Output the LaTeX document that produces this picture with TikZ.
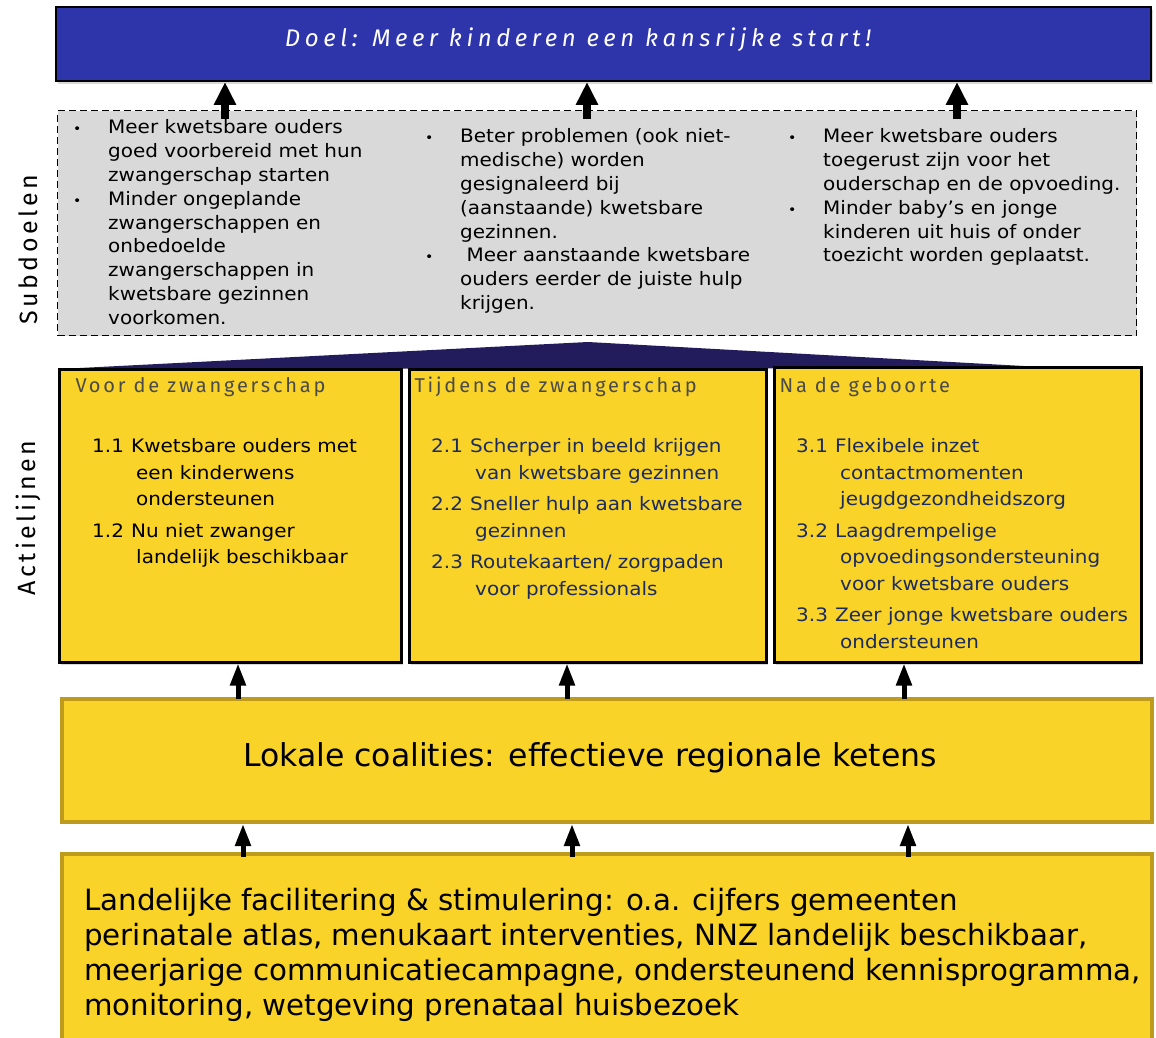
\documentclass[tikz,border=0pt]{standalone}
\usepackage{fontspec}
\setmainfont{DejaVu Sans}
\newfontfamily\thinfont{Fira Sans}
\newfontfamily\widefont{DejaVu Sans}[FakeStretch=1.08]
\usetikzlibrary{arrows.meta,positioning,shadows}
\definecolor{doelblue}{HTML}{2E35AB}
\definecolor{subgray}{HTML}{D9D9D9}
\definecolor{actyellow}{HTML}{F9D327}
\definecolor{roofnavy}{HTML}{221B5C}
\definecolor{goldline}{HTML}{BE9A1D}
\definecolor{itemnavy}{HTML}{1C2B5E}
\definecolor{headgray}{HTML}{4A4A4A}
\newcommand{\bul}{{\fontsize{13}{13}\selectfont\textbullet}}

\begin{document}
\begin{tikzpicture}[x=1pt,y=-1pt,
  uparrow/.style={line width=7.5pt,-{Triangle[width=21pt,length=23pt]}},
  smallarrow/.style={line width=5pt,-{Triangle[width=15pt,length=22pt]}},
  boxshadow/.style={drop shadow={shadow xshift=2pt,shadow yshift=-3pt,opacity=0.3}},
  actbox/.style={draw=black,line width=2.5pt,fill=actyellow,anchor=north west,inner sep=0pt,boxshadow},
  basebox/.style={draw=goldline,line width=4pt,fill=actyellow,anchor=north west,inner sep=0pt},
  header/.style={anchor=west,text=headgray,font=\thinfont\addfontfeatures{LetterSpace=14}\fontsize{20}{24}\selectfont},
  sidelabel/.style={rotate=90,font=\thinfont\addfontfeatures{LetterSpace=14}\fontsize{25}{28}\selectfont},
  subtext/.style={anchor=north west,inner sep=0pt,font=\widefont\fontsize{18.5}{23.8}\selectfont},
  acttext/.style={anchor=north west,inner sep=0pt,font=\widefont\fontsize{18.5}{26.5}\selectfont}]

\useasboundingbox (0,0) rectangle (1156,1038);

% Goal on top
\node[draw=black,line width=2pt,fill=doelblue,anchor=north west,inner sep=0pt,
  minimum width=1095pt,minimum height=74pt,boxshadow] (doel) at (55,6) {};
\node[text=white,font=\thinfont\itshape\addfontfeatures{LetterSpace=19}\fontsize{24}{28}\selectfont]
  (doeltext) at (578,40) {Doel: Meer kinderen een kansrijke start!};

% Sub goals
\node[draw=black,dash pattern=on 7pt off 4pt,line width=1.2pt,fill=subgray,anchor=north west,inner sep=0pt,
  minimum width=1079pt,minimum height=225pt] (sub) at (57,110) {};
\node[sidelabel] (sublabel) at (28,250) {Subdoelen};

\node[subtext] (sub1) at (73,117) {\begin{tabular}{@{}p{35pt}@{}l@{}}
  \bul & Meer kwetsbare ouders\\
  & goed voorbereid met hun\\
  & zwangerschap starten\\
  \bul & Minder ongeplande\\
  & zwangerschappen en\\
  & onbedoelde\\
  & zwangerschappen in\\
  & kwetsbare gezinnen\\
  & voorkomen.
\end{tabular}};
\node[subtext] (sub2) at (425,126) {\begin{tabular}{@{}p{35pt}@{}l@{}}
  \bul & Beter problemen (ook niet-\\
  & medische) worden\\
  & gesignaleerd bij\\
  & (aanstaande) kwetsbare\\
  & gezinnen.\\
  \bul & \ Meer aanstaande kwetsbare\\
  & ouders eerder de juiste hulp\\
  & krijgen.
\end{tabular}};
\node[subtext] (sub3) at (788,126) {\begin{tabular}{@{}p{35pt}@{}l@{}}
  \bul & Meer kwetsbare ouders\\
  & toegerust zijn voor het\\
  & ouderschap en de opvoeding.\\
  \bul & Minder baby’s en jonge\\
  & kinderen uit huis of onder\\
  & toezicht worden geplaatst.
\end{tabular}};

% Arrows to the goal
\coordinate (s1) at (225,119);
\coordinate (s2) at (587,119);
\coordinate (s3) at (957,119);
\foreach \s in {s1,s2,s3}
  \draw[uparrow] (\s) -- (\s |- doel.south);

% Roof over the three action lines
\fill[roofnavy] (60,369) -- (588,342) -- (1060,368) -- cycle;

% Action lines
\node[actbox,minimum width=342pt,minimum height=293pt] (act1) at (58,368) {};
\node[actbox,minimum width=357pt,minimum height=293pt] (act2) at (408,368) {};
\node[actbox,minimum width=367pt,minimum height=295pt] (act3) at (773,366) {};
\node[sidelabel] (actlabel) at (28,518) {Actielijnen};

\node[header] (head1) at (72,387) {Voor de zwangerschap};
\node[header] (head2) at (411,387) {Tijdens de zwangerschap};
\node[header] (head3) at (776,387) {Na de geboorte};

\node[acttext] (items1) at (92,434) {\begin{tabular}{@{}p{39pt}@{}l@{}}
  1.1 & Kwetsbare ouders met\\
  & \hspace{5pt}een kinderwens\\
  & \hspace{5pt}ondersteunen\\[5pt]
  1.2 & Nu niet zwanger\\
  & \hspace{5pt}landelijk beschikbaar
\end{tabular}};
\node[acttext,text=itemnavy] (items2) at (431,434) {\begin{tabular}{@{}p{39pt}@{}l@{}}
  2.1 & Scherper in beeld krijgen\\
  & \hspace{5pt}van kwetsbare gezinnen\\[5pt]
  2.2 & Sneller hulp aan kwetsbare\\
  & \hspace{5pt}gezinnen\\[5pt]
  2.3 & Routekaarten/ zorgpaden\\
  & \hspace{5pt}voor professionals
\end{tabular}};
\node[acttext,text=itemnavy] (items3) at (796,434) {\begin{tabular}{@{}p{39pt}@{}l@{}}
  3.1 & Flexibele inzet\\
  & \hspace{5pt}contactmomenten\\
  & \hspace{5pt}jeugdgezondheidszorg\\[5pt]
  3.2 & Laagdrempelige\\
  & \hspace{5pt}opvoedingsondersteuning\\
  & \hspace{5pt}voor kwetsbare ouders\\[5pt]
  3.3 & Zeer jonge kwetsbare ouders\\
  & \hspace{5pt}ondersteunen
\end{tabular}};

% Local coalities
\node[basebox,minimum width=1090pt,minimum height=123pt] (lokaal) at (60,697) {};
\node[font=\fontsize{31.5}{36}\selectfont] (lokaaltext) at (590,758)
  {Lokale coalities: effectieve regionale ketens};

\coordinate (l1) at (238,699);
\coordinate (l2) at (567,699);
\coordinate (l3) at (904,699);
\draw[smallarrow] (l1) -- (l1 |- act1.south);
\draw[smallarrow] (l2) -- (l2 |- act2.south);
\draw[smallarrow] (l3) -- (l3 |- act3.south);

% National support
\node[basebox,minimum width=1090pt,minimum height=200pt] (landelijk) at (60,852) {};
\node[anchor=north west,inner sep=0pt,align=left,font=\fontsize{29.3}{35}\selectfont]
  (landtext) at (84,888) {Landelijke facilitering \& stimulering: o.a. cijfers gemeenten\\
  perinatale atlas, menukaart interventies, NNZ landelijk beschikbaar,\\
  meerjarige communicatiecampagne, ondersteunend kennisprogramma,\\
  monitoring, wetgeving prenataal huisbezoek};

\coordinate (n1) at (243,857);
\coordinate (n2) at (572,857);
\coordinate (n3) at (908,857);
\foreach \n in {n1,n2,n3}
  \draw[smallarrow] (\n) -- (\n |- lokaal.south);

\end{tikzpicture}
\end{document}
